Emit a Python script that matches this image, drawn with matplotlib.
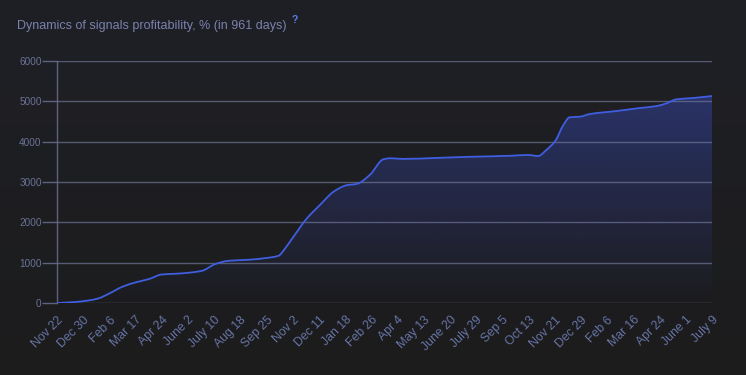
import numpy as np
import matplotlib
matplotlib.use("Agg")
import matplotlib.pyplot as plt
from matplotlib.patches import PathPatch
from matplotlib.path import Path

# ---- data (days since start, profitability %) ----
days = [0, 27, 47, 61, 76, 96, 115, 135, 154, 174, 193, 213, 232, 252, 281, 306,
        325, 335, 342, 367, 386, 406, 425, 440, 459, 479, 489, 508, 557, 606, 665,
        691, 706, 718, 731, 743, 752, 767, 782, 821, 855, 880, 894, 909, 933, 961]
profit = [0, 25, 65, 115, 230, 403, 510, 594, 708, 725, 750, 800, 965, 1047, 1072, 1114,
          1171, 1361, 1525, 2104, 2433, 2762, 2920, 2953, 3176, 3564, 3589, 3572, 3597, 3625, 3650,
          3670, 3645, 3795, 4017, 4413, 4604, 4619, 4686, 4760, 4834, 4884, 4950, 5050, 5082, 5131]
tick_labels = ["Nov 22", "Dec 30", "Feb 6", "Mar 17", "Apr 24", "June 2", "July 10", "Aug 18",
               "Sep 25", "Nov 2", "Dec 11", "Jan 18", "Feb 26", "Apr 4", "May 13", "June 20",
               "July 29", "Sep 5", "Oct 13", "Nov 21", "Dec 29", "Feb 6", "Mar 16", "Apr 24",
               "June 1", "July 9"]
y_ticks = [0, 1000, 2000, 3000, 4000, 5000, 6000]
total_days = 961
title = "Dynamics of signals profitability, % (in 961 days)"


def smooth_path_verts(x, y):
    """Monotone (Fritsch-Carlson) tangents -> cubic Bezier control points."""
    n = len(x)
    h = np.diff(x)
    d = np.diff(y) / h
    m = np.zeros(n)
    m[0], m[-1] = d[0], d[-1]
    for i in range(1, n - 1):
        if d[i - 1] * d[i] <= 0:
            m[i] = 0.0
        else:
            w1 = 2 * h[i] + h[i - 1]
            w2 = h[i] + 2 * h[i - 1]
            m[i] = (w1 + w2) / (w1 / d[i - 1] + w2 / d[i])
    verts = [(x[0], y[0])]
    codes = [Path.MOVETO]
    for i in range(n - 1):
        verts += [(x[i] + h[i] / 3, y[i] + m[i] * h[i] / 3),
                  (x[i + 1] - h[i] / 3, y[i + 1] - m[i + 1] * h[i] / 3),
                  (x[i + 1], y[i + 1])]
        codes += [Path.CURVE4] * 3
    return verts, codes


W, H = 746, 375
fig = plt.figure(figsize=(W / 100, H / 100), dpi=100)

# background gradient (slightly bluish at top)
bg = fig.add_axes([0, 0, 1, 1], zorder=-10)
top_c = np.array([31, 32, 38]) / 255
bot_c = np.array([28, 28, 29]) / 255
t = np.linspace(0, 1, 200)[:, None]
grad = top_c * (1 - t) + bot_c * t
bg.imshow(grad[:, None, :].repeat(2, axis=1), aspect="auto", extent=[0, 1, 0, 1])
bg.axis("off")

left, right = 57 / W, 712 / W
bottom, top = 1 - 303 / H, 1 - 61 / H
ax = fig.add_axes([left, bottom, right - left, top - bottom])
ax.set_facecolor("none")

x = np.array(days, dtype=float)
y = np.array(profit, dtype=float)

line_verts, line_codes = smooth_path_verts(x, y)

# gradient fill under curve
fill_verts = line_verts + [(x[-1], 0), (x[0], 0), (x[0], y[0])]
fill_codes = line_codes + [Path.LINETO, Path.LINETO, Path.CLOSEPOLY]
fill_patch = PathPatch(Path(fill_verts, fill_codes), facecolor="none", edgecolor="none")
ax.add_patch(fill_patch)
n = 300
alpha = np.linspace(0.42, 0.0, n)  # top -> bottom
rgba = np.zeros((n, 2, 4))
rgba[..., 0] = 60 / 255
rgba[..., 1] = 80 / 255
rgba[..., 2] = 205 / 255
rgba[..., 3] = alpha[:, None]
im = ax.imshow(rgba, aspect="auto", extent=[0, total_days, 0, 5300], origin="upper",
               zorder=1, interpolation="bilinear")
im.set_clip_path(fill_patch)

# smooth line
ax.add_patch(PathPatch(Path(line_verts, line_codes), facecolor="none",
                       edgecolor="#3f5ee0", lw=1.3, zorder=4))

ax.set_xlim(0, total_days)
ax.set_ylim(0, 6000)

# grid
for v in y_ticks:
    ax.axhline(v, color="#6a7090", lw=1.0, alpha=0.75, zorder=3)

ax.set_yticks(y_ticks)
ax.set_yticklabels([str(v) for v in y_ticks])
xt = np.linspace(0, total_days, len(tick_labels))
ax.set_xticks(xt)
ax.set_xticklabels(tick_labels, rotation=45, ha="right", va="top",
                   rotation_mode="anchor")

ax.tick_params(axis="y", length=11, width=1.0, color="#5d6280", labelcolor="#6a7396",
               labelsize=7.2, pad=0)
ax.tick_params(axis="x", length=0, labelcolor="#6774a6", labelsize=8.8, pad=8)
for lbl in ax.get_xticklabels():
    lbl.set_family(["Liberation Sans", "DejaVu Sans"])
for lbl in ax.get_yticklabels():
    lbl.set_family(["Liberation Sans", "DejaVu Sans"])

for s in ["top", "right", "bottom"]:
    ax.spines[s].set_visible(False)
ax.spines["left"].set_color("#5d6280")
ax.spines["left"].set_linewidth(1.0)

fig.text(17 / W, 1 - 26 / H, title, color="#7a82ad", fontsize=9.0,
         family=["Liberation Sans", "DejaVu Sans"], va="center", ha="left")
fig.text(291 / W, 1 - 20 / H, "?", color="#5d7fe6", fontsize=7.5, fontweight="bold",
         family=["Liberation Sans", "DejaVu Sans"], va="center", ha="left")

fig.savefig("out.png", dpi=100, facecolor=fig.get_facecolor())
